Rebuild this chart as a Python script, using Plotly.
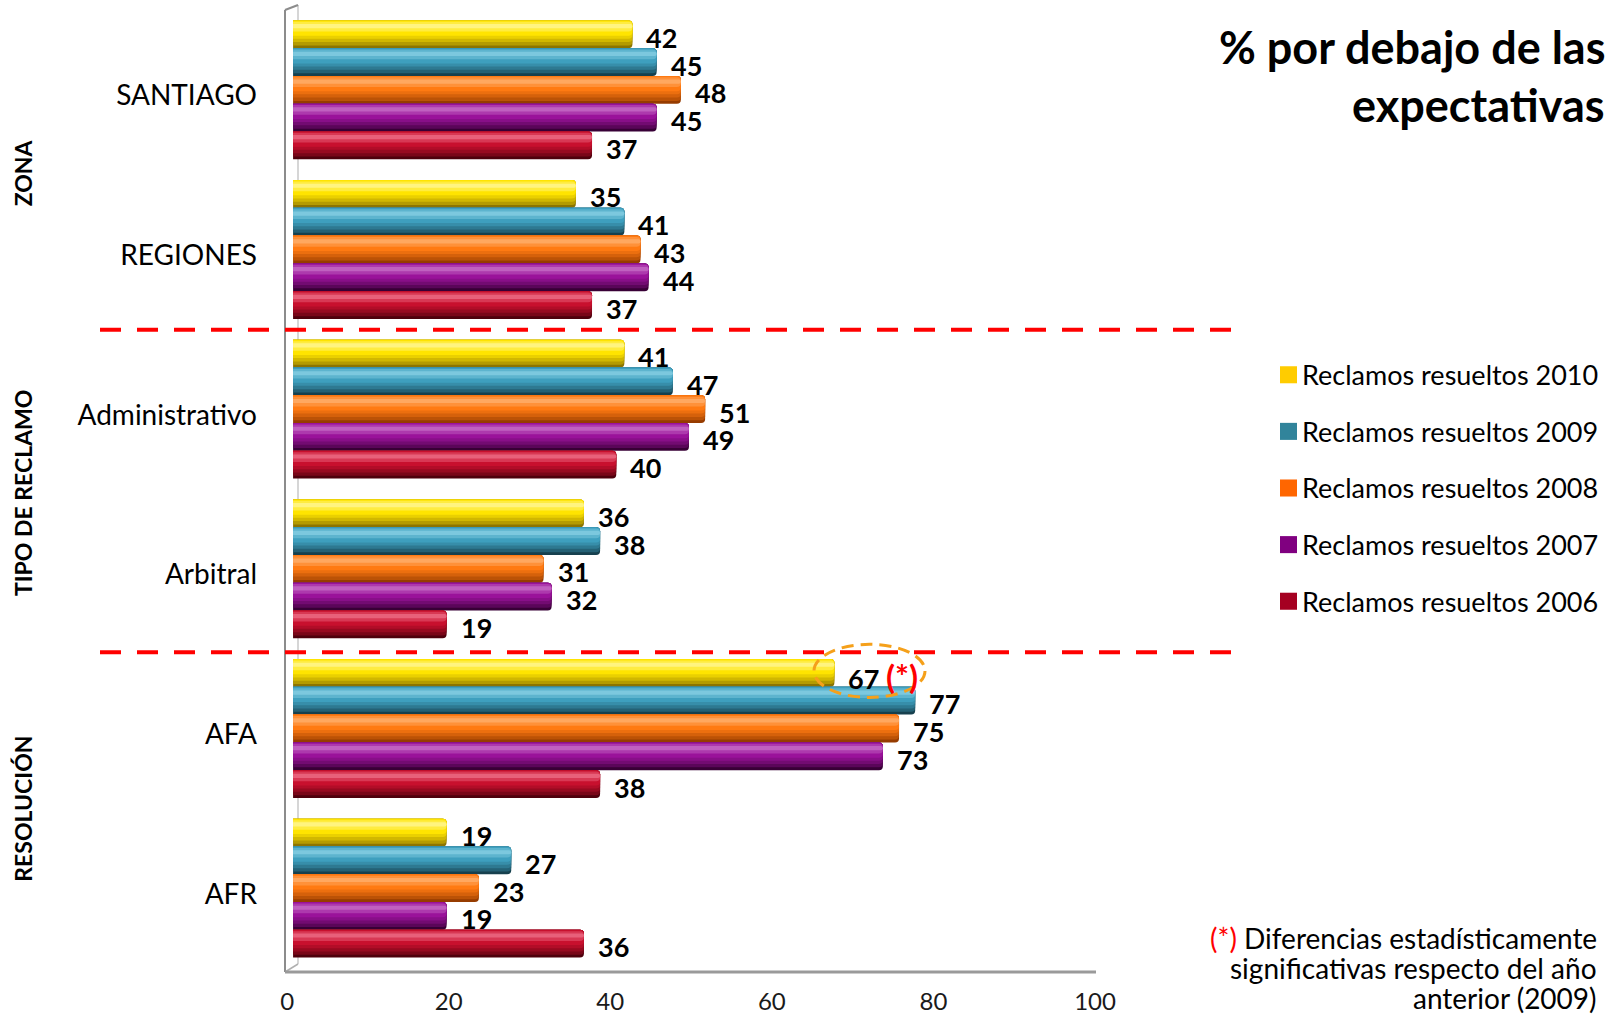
import plotly.graph_objects as go

# ---- data -------------------------------------------------------------
categories = ["SANTIAGO", "REGIONES", "Administrativo", "Arbitral", "AFA", "AFR"]
series_names = [
    "Reclamos resueltos 2010",
    "Reclamos resueltos 2009",
    "Reclamos resueltos 2008",
    "Reclamos resueltos 2007",
    "Reclamos resueltos 2006",
]
v2010 = [42, 35, 41, 36, 67, 19]
v2009 = [45, 41, 47, 38, 77, 27]
v2008 = [48, 43, 51, 31, 75, 23]
v2007 = [45, 44, 49, 32, 73, 19]
v2006 = [37, 37, 40, 19, 38, 36]
series_values = [v2010, v2009, v2008, v2007, v2006]
x_ticks = [0, 20, 40, 60, 80, 100]
group_titles = ["ZONA", "TIPO DE RECLAMO", "RESOLUCIÓN"]
# (series index, category index) of values flagged as significant
significant = [(0, 4)]

# ---- styling ----------------------------------------------------------
legend_colors = ["#FFCC00", "#31849B", "#FF6600", "#800080", "#A50021"]
# (main, dark, light) tones used to give each bar a cylindrical look
bar_tones = [
    ("#FFE400", "#8C7400", "#FFF480"),
    ("#3E9FBE", "#16404E", "#7CC8DE"),
    ("#FF7A12", "#963C00", "#FFA860"),
    ("#9A129A", "#380036", "#C060C0"),
    ("#C8102E", "#4E000C", "#E8607A"),
]


def blend(c1, c2, t):
    a = [int(c1[i:i + 2], 16) for i in (1, 3, 5)]
    b = [int(c2[i:i + 2], 16) for i in (1, 3, 5)]
    return "#" + "".join(f"{round(x + (y - x) * t):02X}" for x, y in zip(a, b))


def shading(main, dark, light):
    # (start, end) as fractions of bar thickness measured from the top edge
    return [
        (0.00, 1.00, dark),
        (0.00, 0.90, blend(main, dark, 0.65)),
        (0.00, 0.78, blend(main, dark, 0.40)),
        (0.00, 0.66, blend(main, dark, 0.18)),
        (0.00, 0.55, main),
        (0.05, 0.40, blend(main, light, 0.5)),
        (0.13, 0.28, light),
    ]


W, H = 1624, 1025
K = 1009 / 1025            # vertical extent of the drawing relative to the page
L, R = 285, 523
T = 10 / K
B = H - 966 / K
PW, PH = W - L - R, H - T - B
SLOT = 0.1739              # thickness of one bar in category units
FONT = "Lato"


def px(x):
    return (x - L) / PW


def py(y):
    return 1 - (y / K - T) / PH


fig = go.Figure()

n_series = len(series_values)
for s, vals in enumerate(series_values):
    off = (s - (n_series - 1) / 2) * SLOT
    for a, b, col in shading(*bar_tones[s]):
        centers = [g + off - SLOT / 2 + (a + b) / 2 * SLOT for g in range(len(categories))]
        fig.add_trace(go.Bar(
            x=vals, y=centers, orientation="h", width=(b - a) * SLOT,
            marker=dict(color=col, line=dict(width=0), cornerradius=4),
            name=series_names[s], showlegend=False, hoverinfo="skip",
        ))

# value labels
annotations = []
for s, vals in enumerate(series_values):
    off = (s - (n_series - 1) / 2) * SLOT
    for g, v in enumerate(vals):
        txt = str(v)
        if (s, g) in significant:
            txt += " <span style='color:#FF0000;font-size:33px'>(*)</span>"
        annotations.append(dict(
            x=v, y=g + off, xref="x", yref="y", text=txt, showarrow=False,
            xanchor="left", yanchor="middle", xshift=12, yshift=-3,
            font=dict(family=FONT, size=27, color="#000000", weight="bold"),
        ))

# rotated section titles
for title, yc in zip(group_titles, [173, 492, 807]):
    annotations.append(dict(
        x=px(23), y=py(yc), xref="paper", yref="paper", text=title, showarrow=False,
        textangle=-90, xanchor="center", yanchor="middle",
        font=dict(family=FONT, size=23, color="#000000", weight="bold"),
    ))

# chart title
for line, yc in zip(["% por debajo de las", "expectativas"], [47, 105]):
    annotations.append(dict(
        x=px(1607), y=py(yc), xref="paper", yref="paper", text=line, showarrow=False,
        xanchor="right", yanchor="middle",
        font=dict(family=FONT, size=45, color="#000000", weight="bold"),
    ))

# legend
shapes = []
for i, (name, col) in enumerate(zip(series_names, legend_colors)):
    yc = 374 + i * 56.5
    shapes.append(dict(type="rect", xref="paper", yref="paper",
                       x0=px(1280), x1=px(1297), y0=py(yc - 8.5), y1=py(yc + 8.5),
                       fillcolor=col, line=dict(width=0)))
    annotations.append(dict(
        x=px(1300), y=py(yc), xref="paper", yref="paper", text=name, showarrow=False,
        xanchor="left", yanchor="middle",
        font=dict(family=FONT, size=27, color="#000000"),
    ))

# footnote
foot_lines = [
    "<span style='color:#FF0000'>(*)</span> Diferencias estadísticamente",
    "significativas respecto del año",
    "anterior (2009)",
]
for line, yc in zip(foot_lines, [936, 966, 996]):
    annotations.append(dict(
        x=px(1599), y=py(yc), xref="paper", yref="paper", text=line, showarrow=False,
        xanchor="right", yanchor="middle",
        font=dict(family=FONT, size=28, color="#000000"),
    ))

# 3-D style wall and floor lines
gray = "#8C8C8C"
for x0, y0, x1, y1, col, w in [
    (298, 5, 298, 962, "#C8C8C8", 1.5),
    (285, 10, 298, 5, gray, 2),
    (285, 970, 298, 962, "#B0B0B0", 1.5),
    (285, 10, 285, 970, gray, 2),
    (285, 970, 1096, 970, "#9A9A9A", 3),
]:
    shapes.append(dict(type="line", xref="paper", yref="paper",
                       x0=px(x0), y0=py(y0), x1=px(x1), y1=py(y1),
                       line=dict(color=col, width=w), layer="below"))

# section separators
for yline in [329, 651]:
    shapes.append(dict(type="line", xref="paper", yref="paper",
                       x0=px(100), x1=px(1235), y0=py(yline), y1=py(yline),
                       line=dict(color="#FF0000", width=4, dash="21px,16px")))

# highlight around the significant value
shapes.append(dict(type="circle", xref="paper", yref="paper",
                   x0=px(814), x1=px(925), y0=py(696), y1=py(643),
                   line=dict(color="#F5A01A", width=3, dash="12px,7px")))

fig.update_layout(
    width=W, height=H, autosize=False,
    margin=dict(l=L, r=R, t=T, b=B, pad=0),
    paper_bgcolor="#FFFFFF", plot_bgcolor="rgba(0,0,0,0)",
    barmode="overlay", showlegend=False,
    font=dict(family=FONT, color="#000000"),
    annotations=annotations, shapes=shapes,
    xaxis=dict(range=[-1, 100], tickvals=x_ticks, ticktext=[str(t) for t in x_ticks],
               showgrid=False, zeroline=False, showline=False, ticks="",
               tickfont=dict(family=FONT, size=24, color="#1A1A1A"),
               ticklabelstandoff=17, ticklabelshift=-6, fixedrange=True),
    yaxis=dict(range=[len(categories) - 0.5, -0.5],
               tickvals=[g + 0.035 for g in range(len(categories))], ticktext=categories,
               showgrid=False, zeroline=False, showline=False, ticks="",
               tickfont=dict(family=FONT, size=28, color="#000000"),
               ticklabelstandoff=27, fixedrange=True),
)

fig.write_html("out.html")
